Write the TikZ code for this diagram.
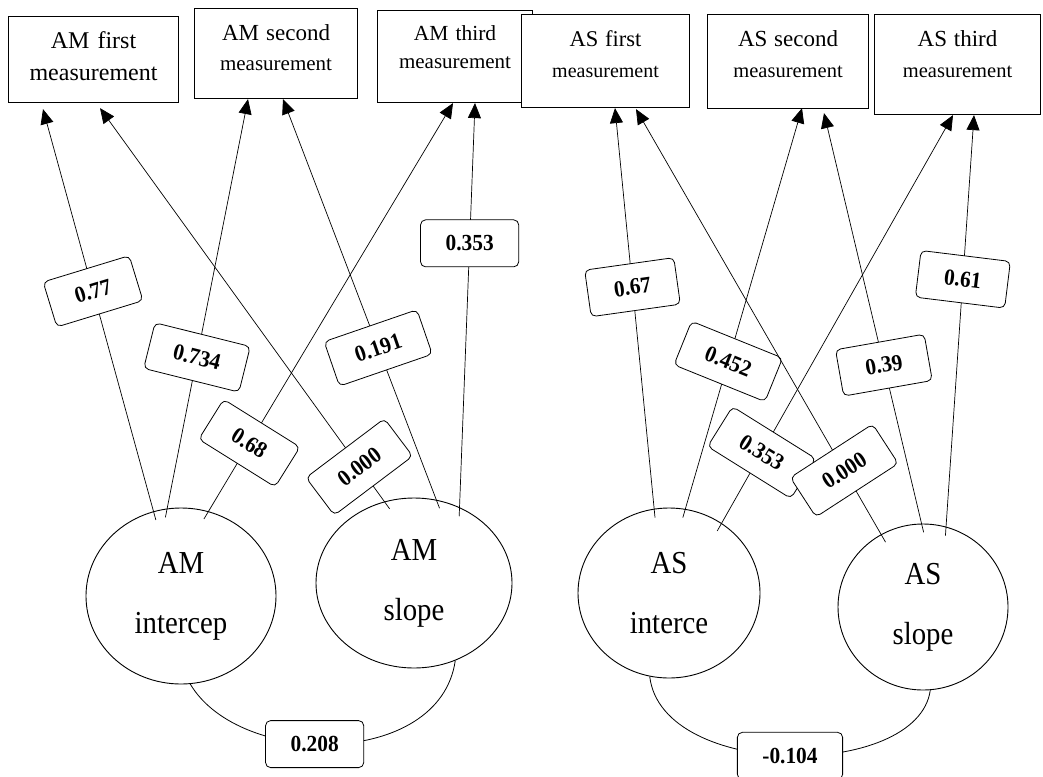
\documentclass[tikz,border=0pt]{standalone}
\usepackage{fontspec}
\setmainfont{Liberation Serif}
\newfontfamily\latfont[FakeStretch=0.9]{Liberation Serif}
\newfontfamily\labfont[FakeStretch=0.93]{Liberation Serif}
\usetikzlibrary{shapes.geometric,arrows.meta,calc}
\begin{document}
\begin{tikzpicture}[x=1pt,y=-1pt,
  mbox/.style={draw, line width=1.1pt, fill=white, anchor=north west, inner sep=0pt, align=center},
  lat/.style={draw, ellipse, line width=0.9pt, inner sep=0pt, align=center, font=\latfont\fontsize{32}{60}\selectfont},
  lab/.style={draw, fill=white, rounded corners=5pt, line width=0.8pt, minimum width=90pt, minimum height=47pt, inner xsep=25pt, font=\labfont\fontsize{23}{26}\selectfont\bfseries},
  ld/.style={line width=0.7pt, -{Triangle[length=15pt,width=13pt]}, shorten <=-9pt},
  cov/.style={line width=0.8pt}]
\useasboundingbox (0,0) rectangle (1043,776);

% measurement boxes
\node[mbox, text width=170pt, text height=32pt, text depth=54pt, font=\fontsize{24}{32}\selectfont] (amf) at (8,16) {AM first\\measurement};
\node[mbox, text width=163pt, text height=32pt, text depth=58pt, font=\fontsize{21}{30}\selectfont] (ams) at (194,8) {{\fontsize{23}{30}\selectfont AM second}\\measurement};
\node[mbox, text width=155pt, text height=30pt, text depth=62pt, font=\fontsize{21}{28}\selectfont] (amt) at (377,10) {{\fontsize{21.5}{28}\selectfont AM third}\\measurement};
\node[mbox, text width=168pt, text height=32pt, text depth=61pt, font=\fontsize{20}{31}\selectfont] (asf) at (521,14) {{\fontsize{22.5}{31}\selectfont AS first}\\measurement};
\node[mbox, text width=161pt, text height=32pt, text depth=62pt, font=\fontsize{20.5}{31}\selectfont] (asc) at (707,14) {{\fontsize{23}{31}\selectfont AS second}\\measurement};
\node[mbox, text width=166pt, text height=32pt, text depth=68pt, font=\fontsize{20.5}{31}\selectfont] (ast) at (874,14) {{\fontsize{23}{31}\selectfont AS third}\\measurement};

% latent variables
\node[lat, minimum width=190pt, minimum height=176pt] (ami) at (181,596) {AM\\intercep};
\node[lat, minimum width=196pt, minimum height=170pt] (aml) at (414,583) {AM\\slope};
\node[lat, minimum width=182pt, minimum height=170pt] (asi) at (669,593) {AS\\interce};
\node[lat, minimum width=170pt, minimum height=166pt] (asl) at (923,607) {AS\\slope};

% loadings AM
\draw[ld] (ami.108) -- ($(amf.south west)+(35,6)$) node[lab,pos=0.547,rotate=17]{0.77};
\draw[ld] (ami.99) -- ($(ams.south west)+(54,0)$) node[lab,pos=0.369,rotate=-14]{0.734};
\draw[ld] (ami.72) -- ($(amt.south west)+(76,0)$) node[lab,pos=0.167,rotate=-32]{0.68};
\draw[ld] (aml.110) -- ($(amf.south west)+(92,5)$) node[lab,pos=0.088,rotate=37]{0.000};
\draw[ld] (aml.75) -- ($(ams.south west)+(89,0)$) node[lab,pos=0.379,rotate=19]{0.191};
\draw[ld] (aml.59) -- ($(amt.south west)+(98,0)$) node[lab,pos=0.653,rotate=0]{0.353};

% loadings AS
\draw[ld] (asi.100) -- ($(asf.south west)+(94,0)$) node[lab,pos=0.553,rotate=8]{0.67};
\draw[ld] (asi.79) -- ($(asc.south west)+(95,-1)$) node[lab,pos=0.368,rotate=-22]{0.452};
\draw[ld] (asi.53) -- ($(ast.south west)+(79,0)$) node[lab,pos=0.173,rotate=-32]{0.353};
\draw[ld] (asl.120) -- ($(asf.south west)+(115,1)$) node[lab,pos=0.15,rotate=33]{0.000};
\draw[ld] (asl.91) -- ($(asc.south west)+(117,4)$) node[lab,pos=0.386,rotate=10]{0.39};
\draw[ld] (asl.74) -- ($(ast.south west)+(100,0)$) node[lab,pos=0.601,rotate=-7]{0.61};

% covariances
\draw[cov] (ami.276) .. controls (240,768) and (440,768) .. (aml.298) node[lab,pos=0.44]{0.208};
\draw[cov] (asi.257) .. controls (662,780) and (918,780) .. (asl.275) node[lab,pos=0.5]{-0.104};
\end{tikzpicture}
\end{document}
